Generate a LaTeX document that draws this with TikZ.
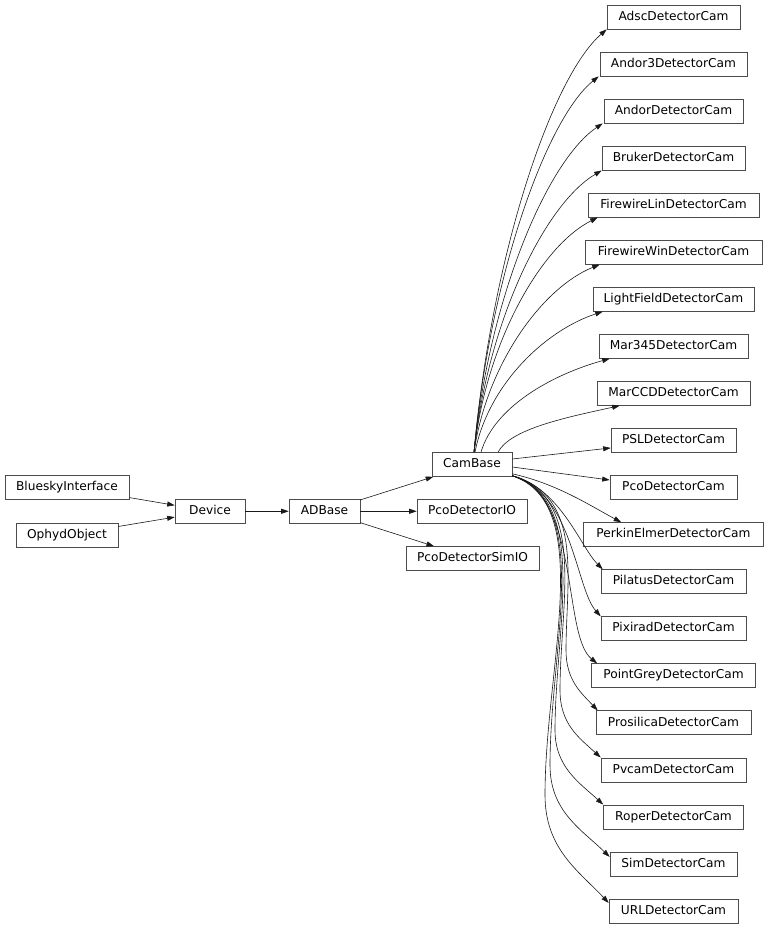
\documentclass[tikz,border=0pt]{standalone}
\usepackage{fontspec}
\newfontfamily\djv{DejaVu Sans}
\usetikzlibrary{arrows.meta,calc}
\tikzset{
  cls/.style={draw=black!70, line width=0.6pt, fill=white, inner sep=0pt,
    minimum height=24pt, text height=9pt, text depth=2.5pt,
    font=\djv\fontsize{12.2pt}{14pt}\selectfont},
  edge/.style={-{Triangle[length=7.5pt,width=5pt]}, line width=0.6pt, black!90}
}
\begin{document}
\begin{tikzpicture}[x=1pt,y=-1pt]
\useasboundingbox (0,0) rectangle (768,928);
% left part
\node[cls, minimum width=124pt] (bluesky) at (67,487) {BlueskyInterface};
\node[cls, minimum width=102pt] (ophyd) at (67,535) {OphydObject};
\node[cls, minimum width=70pt] (device) at (210,511.25) {Device};
\node[cls, minimum width=71pt] (adbase) at (324.5,511.25) {ADBase};
\node[cls, minimum width=80pt] (cambase) at (472,464.5) {CamBase};
\node[cls, minimum width=110pt] (pcoio) at (472,511.25) {PcoDetectorIO};
\node[cls, minimum width=133pt] (pcosim) at (472.5,558.5) {PcoDetectorSimIO};
% right column
\node[cls, minimum width=133pt] (adsc) at (673.5,17) {AdscDetectorCam};
\node[cls, minimum width=147pt] (andorthree) at (673.5,64.05) {Andor3DetectorCam};
\node[cls, minimum width=139pt] (andor) at (673.5,111.1) {AndorDetectorCam};
\node[cls, minimum width=143pt] (bruker) at (673.5,158.15) {BrukerDetectorCam};
\node[cls, minimum width=171pt] (fwlin) at (673.5,205.2) {FirewireLinDetectorCam};
\node[cls, minimum width=177pt] (fwwin) at (673.5,252.25) {FirewireWinDetectorCam};
\node[cls, minimum width=161pt] (lightfield) at (673.5,299.3) {LightFieldDetectorCam};
\node[cls, minimum width=149pt] (marthree) at (673.5,346.35) {Mar345DetectorCam};
\node[cls, minimum width=153pt] (marccd) at (673.5,393.4) {MarCCDDetectorCam};
\node[cls, minimum width=125pt] (psl) at (673.5,440.45) {PSLDetectorCam};
\node[cls, minimum width=127pt] (pco) at (673.5,487.5) {PcoDetectorCam};
\node[cls, minimum width=180pt] (perkin) at (673.5,534.55) {PerkinElmerDetectorCam};
\node[cls, minimum width=145pt] (pilatus) at (673.5,581.6) {PilatusDetectorCam};
\node[cls, minimum width=145pt] (pixirad) at (673.5,628.65) {PixiradDetectorCam};
\node[cls, minimum width=164pt] (pointgrey) at (673.5,675.7) {PointGreyDetectorCam};
\node[cls, minimum width=155pt] (prosilica) at (673.5,722.75) {ProsilicaDetectorCam};
\node[cls, minimum width=145pt] (pvcam) at (673.5,769.8) {PvcamDetectorCam};
\node[cls, minimum width=140pt] (roper) at (673.5,816.85) {RoperDetectorCam};
\node[cls, minimum width=127pt] (sim) at (673.5,863.9) {SimDetectorCam};
\node[cls, minimum width=129pt] (url) at (673.5,910.95) {URLDetectorCam};
% via points
\coordinate (vpros) at (566,650);
\coordinate (vpvcam) at (560,690);
\coordinate (vroper) at (555,730);
\coordinate (vsim) at (550,765);
\coordinate (vurl) at (545,795);
% left edges
\draw[edge] (bluesky) -- (device);
\draw[edge] (ophyd) -- (device);
\draw[edge] (device) -- (adbase);
\draw[edge] (adbase) -- (cambase);
\draw[edge] (adbase) -- (pcoio);
\draw[edge] (adbase) -- (pcosim);
% upper fan
\draw[edge] ($(cambase.north)+(2,0)$) .. controls +(18,-199) and +(-55,48) .. (adsc.south west);
\draw[edge] ($(cambase.north)+(2,0)$) .. controls +(16,-177) and +(-52,42) .. ($(andorthree.south west)+(-1,0)$);
\draw[edge] ($(cambase.north)+(2,0)$) .. controls +(15,-155) and +(-55,37) .. ($(andor.south west)+(-1,0)$);
\draw[edge] ($(cambase.north)+(2,0)$) .. controls +(14,-133) and +(-56,33) .. (bruker.south west);
\draw[edge] ($(cambase.north)+(2,0)$) .. controls +(12,-111) and +(-56,28) .. ($(fwlin.south west)+(10,0)$);
\draw[edge] ($(cambase.north)+(2,0)$) .. controls +(13,-89) and +(-57,23) .. ($(fwwin.south west)+(15,0)$);
\draw[edge] ($(cambase.north)+(3,0)$) .. controls +(13,-67) and +(-58,19) .. ($(lightfield.south west)+(10,0)$);
\draw[edge] ($(cambase.north)+(9,0)$) .. controls +(13,-45) and +(-58,16) .. ($(marthree.south west)+(11,0)$);
\draw[edge] ($(cambase.north)+(26,0)$) .. controls +(12,-23) and +(-55,12) .. ($(marccd.south west)+(23,0)$);
% right side
\draw[edge] ($(cambase.east)+(0,-5.5)$) -- ($(psl.west)+(0,7.5)$);
\draw[edge] ($(cambase.east)+(0,2.5)$) -- ($(pco.west)+(0,-7.5)$);
% lower fan
\draw[edge] ($(cambase.south east)+(0,-3)$) .. controls +(45,10) and +(-30,-16) .. ($(perkin.north west)+(38,0)$);
\draw[edge] ($(cambase.south east)+(0,-1)$) .. controls +(48,12) and +(-22,-22) .. ($(pilatus.north west)+(2,0)$);
\draw[edge] ($(cambase.south east)+(0,-1)$) .. controls +(60,15) and +(-25,-28) .. (pixirad.north west);
\draw[edge] ($(cambase.south east)+(0,-1)$) .. controls +(68,18) and +(-35,-28) .. ($(pointgrey.north west)+(6,0)$);
\draw[edge] ($(cambase.south east)+(0,-1)$) .. controls +(72,20) and +(0,-70) .. (vpros)
  .. controls +(0,30) and +(-17,-18) .. ($(prosilica.north west)+(2,0)$);
\draw[edge] ($(cambase.south east)+(0,-1)$) .. controls +(75,22) and +(0,-86) .. (vpvcam)
  .. controls +(0,34) and +(-22,-20) .. (pvcam.north west);
\draw[edge] ($(cambase.south east)+(0,-1)$) .. controls +(78,24) and +(0,-102) .. (vroper)
  .. controls +(0,37) and +(-24,-22) .. (roper.north west);
\draw[edge] ($(cambase.south east)+(0,-1)$) .. controls +(81,26) and +(0,-116) .. (vsim)
  .. controls +(0,46) and +(-29,-28) .. ($(sim.west)+(0,-7)$);
\draw[edge] ($(cambase.south east)+(0,-1)$) .. controls +(84,28) and +(0,-128) .. (vurl)
  .. controls +(0,54) and +(-30,-32) .. ($(url.west)+(0,-8)$);
\end{tikzpicture}
\end{document}
